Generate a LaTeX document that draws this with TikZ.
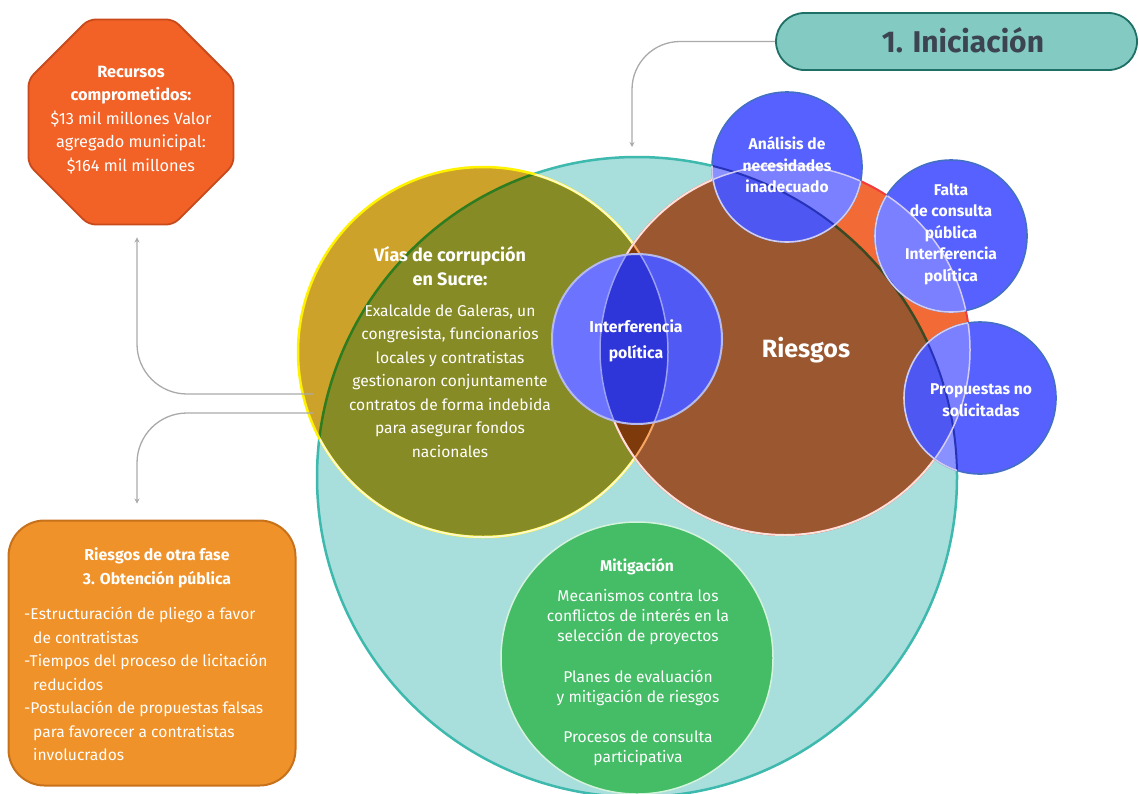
\documentclass[tikz,border=0pt]{standalone}
\usepackage{fontspec}
\setmainfont{Fira Sans}
\usetikzlibrary{arrows.meta,shapes.geometric,calc}

\definecolor{tealfill}{HTML}{A8DEDB}
\definecolor{tealline}{HTML}{3DB9AE}
\definecolor{goldc}{HTML}{CDA22B}
\definecolor{olivec}{HTML}{878B26}
\definecolor{tealonolive}{HTML}{2F7B1F}
\definecolor{yellowline}{HTML}{FFF200}
\definecolor{creamline}{HTML}{FFF9C9}
\definecolor{orangec}{HTML}{F26A36}
\definecolor{brownc}{HTML}{9B5730}
\definecolor{lensc}{HTML}{7E3A0A}
\definecolor{tealonorange}{HTML}{3B4A22}
\definecolor{orangeedge}{HTML}{F03C3C}
\definecolor{pinkedge}{HTML}{FBE2DA}
\definecolor{oliveonorange}{HTML}{F7A561}
\definecolor{greenc}{HTML}{45BC66}
\definecolor{greenline}{HTML}{D4F3DD}
\definecolor{blueolive}{HTML}{6B73FF}
\definecolor{bluebrown}{HTML}{5159F5}
\definecolor{bluelens}{HTML}{2F36D9}
\definecolor{blueedge}{HTML}{B7BBEC}
\definecolor{bluearc}{HTML}{9AA0F2}
\definecolor{bubblec}{HTML}{5661FF}
\definecolor{bubbleteal}{HTML}{8990FF}
\definecolor{bubbleorange}{HTML}{7A80FF}
\definecolor{bubblebrown}{HTML}{4F57F2}
\definecolor{bubbleedge}{HTML}{4470C4}
\definecolor{bubbledark}{HTML}{2633B8}
\definecolor{bubblepale}{HTML}{D2CCF2}
\definecolor{octfill}{HTML}{F26227}
\definecolor{octline}{HTML}{C8491B}
\definecolor{boxfill}{HTML}{F0922A}
\definecolor{boxline}{HTML}{C8711B}
\definecolor{titlefill}{HTML}{82CAC2}
\definecolor{titleline}{HTML}{1E7066}
\definecolor{titletext}{HTML}{3C4452}
\definecolor{connc}{HTML}{AAAAAA}

% a blue risk bubble: #1 centre coordinate, #2 radius
\newcommand\riskbubble[2]{%
  \fill[bubblec] (#1) circle (#2);
  \begin{scope}
    \clip (#1) circle (#2);
    \fill[bubbleteal] (tc) circle (320);
    \fill[bubbleorange] (rc) circle (185);
    \begin{scope}
      \clip (tc) circle (320);
      \fill[bubblebrown] (rc) circle (185);
    \end{scope}
    \draw[bubbledark, line width=2] (tc) circle (320);
    \draw[bubblepale, line width=1.5] (rc) circle (185);
  \end{scope}
  \draw[bubbleedge, line width=1.6] (#1) circle (#2);
  \begin{scope}
    \clip (tc) circle (320) (rc) circle (185);
    \draw[bubblepale, line width=1.6] (#1) circle (#2);
  \end{scope}
}

\begin{document}
\begin{tikzpicture}[x=1pt,y=-1pt,
  txt/.style={text=white, align=center, inner sep=0pt,
    font=\fontsize{15.6}{23.5}\selectfont},
  bubtxt/.style={text=white, align=center, inner sep=0pt,
    font=\fontsize{15.6}{21.5}\selectfont\bfseries},
  conn/.style={draw=connc, line width=1.3, rounded corners=50,
    -{Stealth[length=5pt,width=5pt]}},
  ring/.style={circle, inner sep=0pt, outer sep=0pt}]
\useasboundingbox (0,0) rectangle (1139,793);

% centres of the circles
\coordinate (tc) at (637,477);
\coordinate (oc) at (483,352);
\coordinate (rc) at (785,350);
\coordinate (ic) at (637,339);
\coordinate (gc) at (637,658);
\coordinate (ac) at (787,167);
\coordinate (fc) at (951,236);
\coordinate (pc) at (980,398);

% phase circle
\node[ring, minimum size=640, fill=tealfill, draw=tealline, line width=2.5] (phase) at (tc) {};

% corruption routes circle
\fill[goldc] (oc) circle (185);
\begin{scope}
  \clip (tc) circle (320);
  \fill[olivec] (oc) circle (185);
\end{scope}
\begin{scope}
  \clip (oc) circle (185);
  \draw[tealonolive, line width=2.5] (tc) circle (320);
\end{scope}
\node[ring, minimum size=370, draw=yellowline, line width=2.5] (routes) at (oc) {};
\begin{scope}
  \clip (tc) circle (319);
  \draw[creamline, line width=2] (oc) circle (185);
\end{scope}

% risks circle
\fill[orangec] (rc) circle (185);
\begin{scope}
  \clip (tc) circle (320);
  \fill[brownc] (rc) circle (185);
  \clip (oc) circle (185);
  \fill[lensc] (rc) circle (185);
\end{scope}
\begin{scope}
  \clip (rc) circle (185);
  \draw[tealonorange, line width=2.5] (tc) circle (320);
  \draw[oliveonorange, line width=2] (oc) circle (185);
\end{scope}
\node[ring, minimum size=370, draw=orangeedge, line width=2] (risks) at (rc) {};
\begin{scope}
  \clip (tc) circle (320);
  \draw[pinkedge, line width=2] (rc) circle (185);
\end{scope}

% mitigation circle
\node[ring, minimum size=272, fill=greenc, draw=greenline, line width=1.5] (mit) at (gc) {};

% political interference bubble in the overlap
\begin{scope}
  \clip (ic) circle (85);
  \fill[bluebrown] (ic) circle (85);
  \clip (oc) circle (185);
  \fill[blueolive] (ic) circle (85);
  \clip (rc) circle (185);
  \fill[bluelens] (ic) circle (85);
\end{scope}
\begin{scope}
  \clip (ic) circle (85);
  \draw[bluearc, line width=1.5] (oc) circle (185);
  \draw[bluearc, line width=1.5] (rc) circle (185);
\end{scope}
\node[ring, minimum size=170, draw=blueedge, line width=2] (inter) at (ic) {};

% risk bubbles on the rim
\riskbubble{ac}{75}
\riskbubble{fc}{76}
\riskbubble{pc}{76}
\node[ring, minimum size=150] (analisis) at (ac) {};
\node[ring, minimum size=152] (falta) at (fc) {};
\node[ring, minimum size=152] (propuestas) at (pc) {};

% texts inside the circles
\node[txt, font=\fontsize{18}{24}\selectfont\bfseries] (viatit) at (450,266) {Vías de corrupción\\en Sucre:};
\node[txt] (viabody) at (450,381) {Exalcalde de Galeras, un\\congresista, funcionarios\\locales y contratistas\\gestionaron conjuntamente\\contratos de forma indebida\\para asegurar fondos\\nacionales};
\node[txt, font=\fontsize{25}{30}\selectfont\bfseries] (riesgos) at (806,350) {Riesgos};
\node[bubtxt, font=\fontsize{15.8}{26}\selectfont\bfseries] (intertxt) at (636,341) {Interferencia\\política};
\node[bubtxt] (analisistxt) at (787,165) {Análisis de\\necesidades\\inadecuado};
\node[bubtxt] (faltatxt) at (951,234) {Falta\\de consulta\\pública\\Interferencia\\política};
\node[bubtxt] (propuestastxt) at (981,400) {Propuestas no\\solicitadas};
\node[txt, font=\fontsize{15.6}{20}\selectfont\bfseries] (mittit) at (637,567) {Mitigación};
\node[txt, font=\fontsize{15.6}{20}\selectfont] (mitbody) at (638,678) {Mecanismos contra los\\conflictos de interés en la\\selección de proyectos\\[20.5pt]Planes de evaluación\\y mitigación de riesgos\\[20.5pt]Procesos de consulta\\participativa};

% phase title
\node[rounded corners=28.5, minimum width=361, minimum height=57, inner sep=0pt,
  fill=titlefill, draw=titleline, line width=1.8] (title) at (956.5,41.5) {};
\node[text=titletext, font=\fontsize{30}{36}\selectfont\bfseries, inner sep=0pt] (titletxt) at (963,40) {1. Iniciación};

% committed resources
\node[regular polygon, regular polygon sides=8, minimum size=222, inner sep=0pt,
  fill=octfill, draw=octline, line width=1.8, rounded corners=7] (oct) at (131,122) {};
\node[txt, font=\fontsize{16.3}{23.5}\selectfont] (octtxt) at (131,120) {\textbf{Recursos}\\\textbf{comprometidos:}\\\$13 mil millones Valor\\agregado municipal:\\\$164 mil millones};

% risks of another phase
\node[rounded corners=36, minimum width=287, minimum height=265, inner sep=0pt,
  fill=boxfill, draw=boxline, line width=2] (other) at (152,653) {};
\node[txt, font=\fontsize{15.8}{23.5}\selectfont\bfseries] (othertit) at (157,568) {Riesgos de otra fase\\3. Obtención pública};
\node[txt, align=left, anchor=west] (otherbody) at (24,684) {-Estructuración de pliego a favor\\\hspace*{9pt}de contratistas\\-Tiempos del proceso de licitación\\\hspace*{9pt}reducidos\\-Postulación de propuestas falsas\\\hspace*{9pt}para favorecer a contratistas\\\hspace*{9pt}involucrados};

% connectors
\coordinate (j1) at (313,394);
\coordinate (j2) at (313,413);
\draw[conn, rounded corners=48] (title.west) -| ($(phase.north)+(-5,-10)$);
\draw[conn] (j1) -| ($(oct.south)+(6,12)$);
\draw[conn] (j2) -| ($(other.north)+(-15,-16)$);
\end{tikzpicture}
\end{document}
